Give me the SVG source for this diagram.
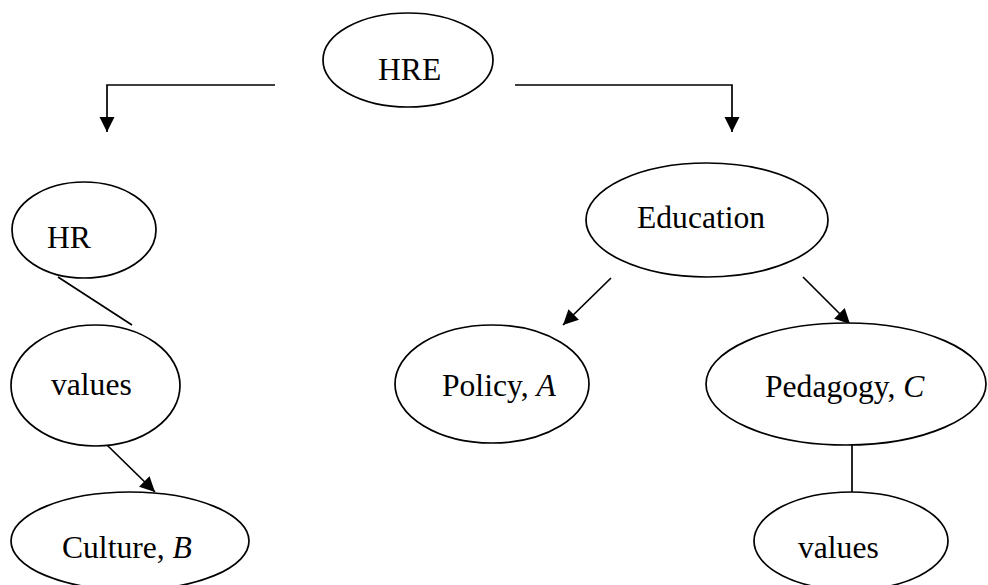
<svg xmlns="http://www.w3.org/2000/svg" width="988" height="585" viewBox="0 0 988 585">
<style>
.n ellipse{fill:#fff;stroke:#000;stroke-width:1.7}
.n text{font-family:"Liberation Serif","Times New Roman",serif;font-size:31.6px;fill:#000}
.c path,.c line{fill:none;stroke:#000;stroke-width:1.7}
.i{font-style:italic}
</style>
<defs>
<marker id="ah" markerUnits="userSpaceOnUse" markerWidth="16" markerHeight="16" viewBox="0 0 16 16" refX="15" refY="8" orient="auto">
<path d="M0,0.5 L15,8 L0,15.5 z" fill="#000"/>
</marker>
</defs>
<g class="c" id="connectors">
<path d="M275,85 H107 V132" marker-end="url(#ah)"/>
<path d="M515,85 H732 V132" marker-end="url(#ah)"/>
<line x1="58" y1="277" x2="132" y2="325"/>
<line x1="107" y1="445" x2="155" y2="492" marker-end="url(#ah)"/>
<line x1="611" y1="278" x2="563" y2="325" marker-end="url(#ah)"/>
<line x1="803" y1="277" x2="850" y2="324" marker-end="url(#ah)"/>
<line x1="852" y1="445" x2="852" y2="492"/>
</g>
<g class="n" id="hre"><ellipse cx="408" cy="60" rx="85" ry="47"/><text x="378" y="80">HRE</text></g>
<g class="n" id="hr"><ellipse cx="84" cy="230" rx="72" ry="48"/><text x="47" y="248">HR</text></g>
<g class="n" id="values-left"><ellipse cx="95.5" cy="385.5" rx="84.5" ry="60.5"/><text x="51" y="395">values</text></g>
<g class="n" id="culture"><ellipse cx="130" cy="541" rx="119" ry="49"/><text x="62" y="558">Culture, <tspan class="i">B</tspan></text></g>
<g class="n" id="education"><ellipse cx="707" cy="220" rx="121" ry="57"/><text x="637" y="228">Education</text></g>
<g class="n" id="policy"><ellipse cx="492" cy="384" rx="97" ry="59"/><text x="442" y="396">Policy, <tspan class="i">A</tspan></text></g>
<g class="n" id="pedagogy"><ellipse cx="846" cy="384" rx="140" ry="61"/><text x="765" y="397">Pedagogy, <tspan class="i">C</tspan></text></g>
<g class="n" id="values-right"><ellipse cx="851" cy="541" rx="97" ry="49"/><text x="798" y="558">values</text></g>
</svg>
